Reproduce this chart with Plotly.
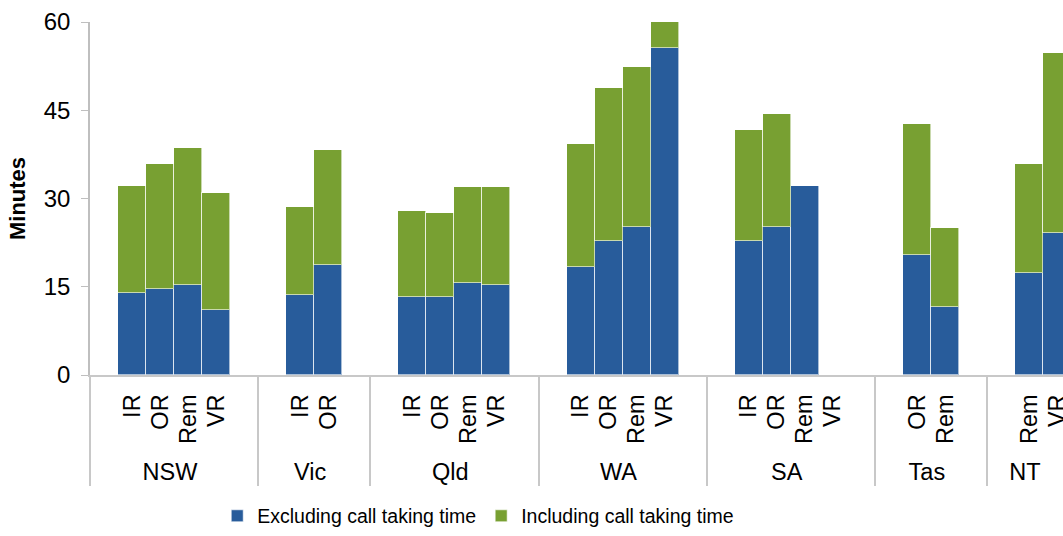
import plotly.graph_objects as go

# ---- data ----
states = ["NSW", "Vic", "Qld", "WA", "SA", "Tas", "NT"]
regions = [
    ["IR", "OR", "Rem", "VR"],
    ["IR", "OR"],
    ["IR", "OR", "Rem", "VR"],
    ["IR", "OR", "Rem", "VR"],
    ["IR", "OR", "Rem", "VR"],
    ["OR", "Rem"],
    ["Rem", "VR"],
]
excluding = [
    [14.0, 14.7, 15.3, 11.0],
    [13.6, 18.7],
    [13.3, 13.3, 15.6, 15.3],
    [18.3, 22.8, 25.1, 55.5],
    [22.8, 25.1, 32.2, None],
    [20.4, 11.6],
    [17.3, 24.1],
]
# additional minutes when call taking time is included (stacked on top)
call_taking_extra = [
    [18.2, 21.2, 23.3, 19.9],
    [14.9, 19.5],
    [14.5, 14.2, 16.3, 16.6],
    [20.9, 25.9, 27.3, 4.8],
    [18.8, 19.2, None, None],
    [22.2, 13.4],
    [18.6, 30.7],
]
series_names = ["Excluding call taking time", "Including call taking time"]
y_ticks = [0, 15, 30, 45, 60]

BLUE = "#285C9B"
GREEN = "#78A032"
FONT = "Liberation Sans, Arial, sans-serif"

# ---- build multicategory axis with blank spacer slots around each group ----
outer, inner, yb, yg = [], [], [], []
for gi, (st, regs, b, g) in enumerate(zip(states, regions, excluding, call_taking_extra)):
    outer.append(st); inner.append(" "); yb.append(None); yg.append(None)
    for r, vb, vg in zip(regs, b, g):
        outer.append(st); inner.append(r); yb.append(vb); yg.append(vg)
    if gi < len(states) - 1:
        outer.append(st); inner.append("  "); yb.append(None); yg.append(None)

x = [outer, inner]

fig = go.Figure()
fig.add_trace(go.Bar(x=x, y=yb, name=series_names[0],
                     marker=dict(color=BLUE, line=dict(color="rgba(255,255,255,0.6)", width=1))))
fig.add_trace(go.Bar(x=x, y=yg, name=series_names[1], cliponaxis=False,
                     marker=dict(color=GREEN, line=dict(color="rgba(255,255,255,0.6)", width=1))))

fig.update_layout(
    width=1063, height=536,
    margin=dict(l=90, r=0, t=22, b=161, pad=0),
    barmode="stack", bargap=0,
    plot_bgcolor="white", paper_bgcolor="white",
    font=dict(family=FONT, size=23, color="black"),
    showlegend=True,
    legend=dict(orientation="h", x=0.399, xanchor="center", y=-0.455, yanchor="bottom",
                font=dict(size=19.5), traceorder="normal", itemwidth=30),
)
fig.update_yaxes(
    range=[0, 60], tickvals=y_ticks, ticks="outside", ticklen=7, tickcolor="#bfbfbf",
    showline=True, linecolor="#bfbfbf", linewidth=1.5, showgrid=False, zeroline=False,
    tickfont=dict(size=24), ticklabelstandoff=6, automargin=False,
    title=dict(text="<b>Minutes</b>", font=dict(size=22), standoff=12),
)
fig.update_xaxes(
    type="multicategory", range=[-0.5, 34.21], tickangle=-90,
    showdividers=True, dividercolor="#c8c8c8", dividerwidth=2,
    showline=True, linecolor="#c8c8c8", linewidth=2, ticks="", showgrid=False,
    tickfont=dict(size=23.5), ticklabelstandoff=8, automargin=False,
)

fig.write_html(
    "out.html",
    config={"displayModeBar": False},
    post_script="document.body.style.margin='0';document.body.style.overflow='hidden';",
)
